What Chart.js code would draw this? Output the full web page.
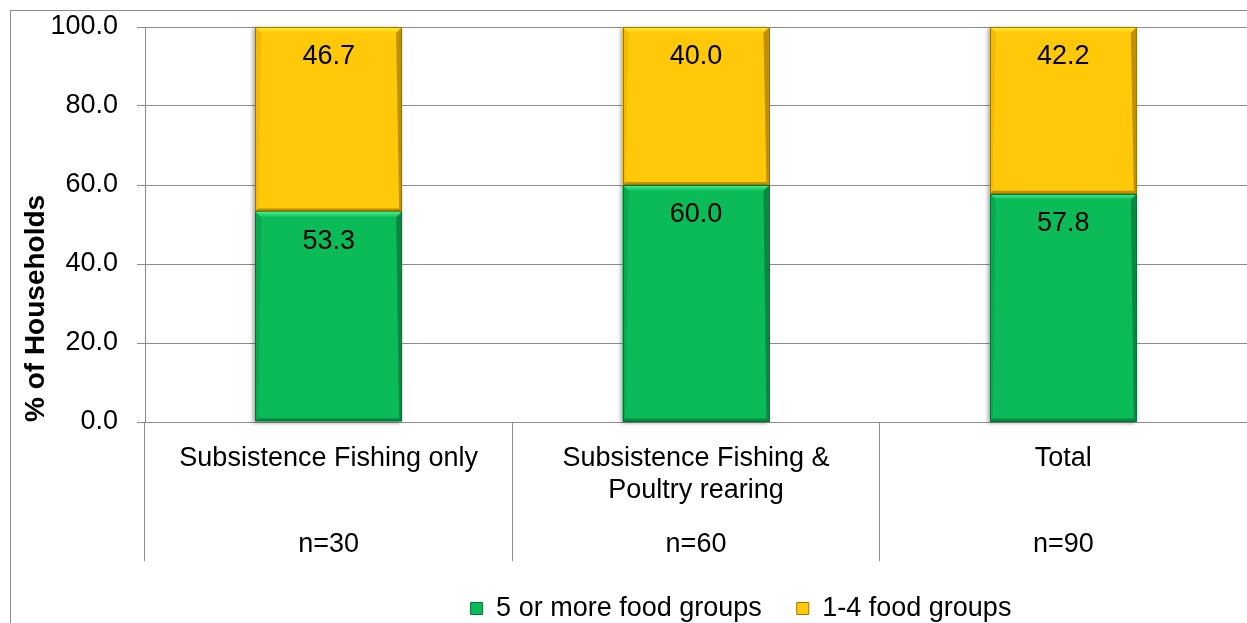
<!DOCTYPE html>
<html>
<head>
<meta charset="utf-8">
<title>Food groups consumed by households</title>
<script src="https://cdn.jsdelivr.net/npm/chart.js@4.4.1/dist/chart.umd.min.js"></script>
<style>
  html, body { margin: 0; padding: 0; width: 1247px; height: 623px; overflow: hidden; background: #fff; }
  #frame { position: absolute; left: 10px; top: 10px; width: 1400px; height: 800px; border: 1px solid #8c8c8c; box-sizing: border-box; }
  #wrap { position: absolute; left: 0; top: 0; width: 1247px; height: 640px; }
</style>
</head>
<body>
<div id="frame"></div>
<div id="wrap"><canvas id="chart" width="1247" height="640"></canvas></div>
<script>
// Household groups (multi-line category labels) and sample sizes
const categories = [
  ["Subsistence Fishing only"],
  ["Subsistence Fishing &", "Poultry rearing"],
  ["Total"]
];
const sampleSizes = ["n=30", "n=60", "n=90"];

// Share of households (%) by number of food groups eaten
const fivePlusGroups = [53.3, 60.0, 57.8];
const oneToFourGroups = [46.7, 40.0, 42.2];

// Value axis ticks
const yTicks = [0, 20, 40, 60, 80, 100];

const FONT = '"Liberation Sans", Arial, Helvetica, sans-serif';
const AXIS_GREY = '#8c8c8c';
Chart.defaults.font.family = FONT;
Chart.defaults.color = '#000';

// Light drop shadow on the left of each stacked column
const columnShadow = {
  id: 'columnShadow',
  beforeDatasetsDraw(chart) {
    const ctx = chart.ctx;
    const metas = chart.getSortedVisibleDatasetMetas();
    ctx.save();
    chart.data.labels.forEach((_, i) => {
      let top = Infinity, bottom = -Infinity, left = 0, w = 0;
      metas.forEach(m => {
        const p = m.data[i].getProps(['x', 'y', 'base', 'width'], true);
        top = Math.min(top, p.y, p.base);
        bottom = Math.max(bottom, p.y, p.base);
        left = p.x - p.width / 2;
        w = p.width;
      });
      ctx.shadowColor = 'rgba(0,0,0,0.35)';
      ctx.shadowBlur = 4;
      ctx.shadowOffsetX = -2;
      ctx.shadowOffsetY = 1;
      ctx.fillStyle = '#fff';
      ctx.fillRect(left, top, w, bottom - top);
    });
    ctx.restore();
  }
};

// Bevelled edges on each bar segment
const bevel = {
  id: 'bevel',
  afterDatasetsDraw(chart) {
    const ctx = chart.ctx;
    const poly = (pts, fill) => {
      ctx.beginPath();
      ctx.moveTo(pts[0][0], pts[0][1]);
      for (let k = 1; k < pts.length; k++) ctx.lineTo(pts[k][0], pts[k][1]);
      ctx.closePath();
      ctx.fillStyle = fill;
      ctx.fill();
    };
    ctx.save();
    chart.getSortedVisibleDatasetMetas().forEach(m => {
      const ds = chart.data.datasets[m.index];
      m.data.forEach(el => {
        const p = el.getProps(['x', 'y', 'base', 'width'], true);
        const l = p.x - p.width / 2, r = p.x + p.width / 2;
        const t = Math.min(p.y, p.base), b = Math.max(p.y, p.base);
        const d = 6, s = 3;
        const g = ctx.createLinearGradient(0, t, 0, t + d);
        g.addColorStop(0, ds.bevelLight);
        g.addColorStop(1, ds.backgroundColor);
        poly([[l, t], [r, t], [r - d, t + d], [l + d, t + d]], g);
        poly([[l, t], [l + d, t + d], [l + s, b - s], [l, b]], ds.bevelSide);
        poly([[r, t], [r, b], [r - s, b - s], [r - d, t + d]], ds.bevelDark);
        poly([[l, b], [r, b], [r - s, b - s], [l + s, b - s]], ds.bevelDark);
        ctx.strokeStyle = ds.borderColor;
        ctx.lineWidth = 1;
        ctx.strokeRect(Math.round(l) + 0.5, Math.round(t) + 0.5, Math.round(r - l) - 1, Math.round(b - t) - 1);
      });
    });
    ctx.restore();
  }
};

// Value labels near the top of each segment
const valueLabels = {
  id: 'valueLabels',
  afterDatasetsDraw(chart) {
    const ctx = chart.ctx;
    ctx.save();
    ctx.font = '27px ' + FONT;
    ctx.fillStyle = '#000';
    ctx.textAlign = 'center';
    ctx.textBaseline = 'middle';
    chart.getSortedVisibleDatasetMetas().forEach(m => {
      const values = chart.data.datasets[m.index].data;
      m.data.forEach((el, i) => {
        const p = el.getProps(['x', 'y', 'base'], true);
        const top = Math.min(p.y, p.base);
        ctx.fillText(values[i].toFixed(1), p.x, top + 30);
      });
    });
    ctx.restore();
  }
};

// Horizontal placement of the legend row
const legendOffset = {
  id: 'legendOffset',
  afterLayout(chart, args, opts) {
    const lg = chart.legend;
    if (!lg) return;
    const dx = opts.center - (lg.left + lg.right) / 2;
    lg.left += dx;
    lg.right += dx;
  }
};

new Chart(document.getElementById('chart'), {
  type: 'bar',
  data: {
    labels: categories,
    datasets: [
      {
        label: '5 or more food groups',
        data: fivePlusGroups,
        backgroundColor: '#0bbb57',
        borderColor: '#06743a',
        borderWidth: 1,
        borderSkipped: false,
        bevelLight: '#48f59a',
        bevelSide: '#0aa94f',
        bevelDark: '#078a40'
      },
      {
        label: '1-4 food groups',
        data: oneToFourGroups,
        backgroundColor: '#ffc90a',
        borderColor: '#9c7700',
        borderWidth: 1,
        borderSkipped: false,
        bevelLight: '#fff22c',
        bevelSide: '#f2ba05',
        bevelDark: '#bf9000'
      }
    ]
  },
  options: {
    responsive: false,
    animation: false,
    events: [],
    categoryPercentage: 0.4,
    barPercentage: 1.0,
    layout: { padding: { top: 27, left: 0, right: 0, bottom: 8 } },
    scales: {
      x: {
        stacked: true,
        grid: { offset: true, drawOnChartArea: false, drawTicks: true, tickLength: 139, color: AXIS_GREY, lineWidth: 1 },
        border: { display: true, color: AXIS_GREY, width: 1 },
        ticks: { padding: -119, font: { size: 27 }, color: '#000', maxRotation: 0, autoSkip: false },
        afterFit: s => { s.height = 85; }
      },
      x2: {
        type: 'category',
        position: 'bottom',
        labels: sampleSizes,
        offset: true,
        grid: { display: false, drawTicks: false },
        border: { display: false },
        ticks: { padding: 21, font: { size: 27 }, color: '#000', maxRotation: 0, autoSkip: false },
        afterFit: s => { s.height = 53; }
      },
      y: {
        stacked: true,
        min: 0,
        max: 100,
        afterBuildTicks: s => { s.ticks = yTicks.map(v => ({ value: v })); },
        ticks: { callback: v => Number(v).toFixed(1), padding: 19, font: { size: 27 }, color: '#000' },
        grid: { color: AXIS_GREY, lineWidth: 1, tickLength: 8 },
        border: { color: AXIS_GREY, width: 1 },
        title: {
          display: true,
          text: '% of Households',
          align: 'start',
          color: '#000',
          font: { size: 28, weight: 'bold' },
          padding: { top: 19, bottom: 0 }
        },
        afterFit: s => { s.width = 145; s.paddingTop = 10; s.paddingBottom = 0; }
      }
    },
    plugins: {
      legend: {
        position: 'bottom',
        labels: {
          boxWidth: 12,
          boxHeight: 12,
          padding: 35,
          color: '#000',
          font: { size: 27 }
        }
      },
      legendOffset: { center: 741 },
      tooltip: { enabled: false }
    }
  },
  plugins: [columnShadow, bevel, valueLabels, legendOffset]
});
</script>
</body>
</html>
